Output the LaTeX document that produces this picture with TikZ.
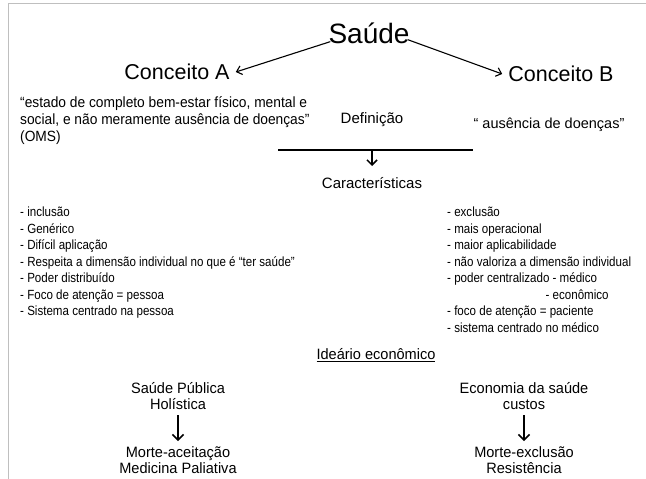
\documentclass[tikz,border=0pt]{standalone}
\usepackage{fontspec}
\setmainfont{Liberation Sans}
\newfontfamily\narrowf[FakeStretch=0.87]{Liberation Sans}
\newfontfamily\semif[FakeStretch=0.93]{Liberation Sans}
\newfontfamily\botf[FakeStretch=0.97]{Liberation Sans}
\usetikzlibrary{arrows.meta}
\tikzset{
  arr/.style={line width=1.1pt, -{Straight Barb[length=5pt,width=9pt,line width=1.1pt]}},
  marr/.style={line width=1.5pt, -{Straight Barb[length=5pt,width=10pt,line width=1.5pt]}},
  darr/.style={line width=1.6pt, -{Straight Barb[length=5.5pt,width=11pt,line width=1.6pt]}},
  big/.style={font=\fontsize{28}{30}\selectfont, inner sep=2pt},
  concept/.style={font=\fontsize{21.5}{24}\selectfont, inner sep=2pt},
  mid/.style={font=\fontsize{15}{17}\selectfont, inner sep=1pt},
  quote/.style={font=\semif\fontsize{14.8}{17}\selectfont, align=left, inner sep=0pt},
  lst/.style={font=\narrowf\fontsize{13.3}{16.5}\selectfont, align=left, inner sep=0pt},
  bot/.style={font=\botf\fontsize{15}{16.5}\selectfont, align=center, inner sep=1pt},
}
\begin{document}
\begin{tikzpicture}[x=1pt,y=-1pt]
\useasboundingbox (0,0) rectangle (646,479);
\fill[white] (0,0) rectangle (646,479);
\draw[black!25, line width=1pt] (8,479) -- (8,3.5) -- (646,3.5);

\node[big] (saude) at (369,33) {Saúde};
\node[concept] (ca) at (177,72) {Conceito A};
\node[concept] (cb) at (561,74) {Conceito B};
\draw[arr] ([xshift=4pt,yshift=4pt]saude.south west) -- ([xshift=4pt]ca.east);
\draw[arr] ([xshift=-4pt,yshift=6pt]saude.south east) -- ([xshift=-4pt]cb.west);

\node[quote, anchor=north west] (qa) at (20,96) {“estado de completo bem-estar físico, mental e\\social, e não meramente ausência de doenças”\\(OMS)};
\node[mid] (def) at (372,120) {Definição};
\node[font=\fontsize{14.5}{16}\selectfont, inner sep=0pt] (qb) at (549,125) {“ ausência de doenças”};

\coordinate (h1) at (278,150);
\coordinate (h2) at (473,150);
\coordinate (hm) at (372,150);
\coordinate (ht) at (372,166);
\draw[line width=1.1pt] (h1) -- (h2);
\node[mid] (car) at (372,183) {Características};
\draw[marr] (hm) -- (ht);

\node[lst, anchor=north west] (la) at (20,207) {- inclusão\\- Genérico\\- Difícil aplicação\\- Respeita a dimensão individual no que é “ter saúde”\\- Poder distribuído\\- Foco de atenção = pessoa\\- Sistema centrado na pessoa};
\node[lst, anchor=north west] (lb) at (447,207) {- exclusão\\- mais operacional\\- maior aplicabilidade\\- não valoriza a dimensão individual\\- poder centralizado - médico\\\hspace*{7.4em}- econômico\\- foco de atenção = paciente\\- sistema centrado no médico};

\node[bot] (ide) at (376,355) {\underline{Ideário econômico}};

\node[bot] (sp) at (178,396) {Saúde Pública\\Holística};
\node[bot] (ma) at (178,460) {Morte-aceitação\\Medicina Paliativa};
\draw[darr] ([yshift=-4pt]sp.south) -- ([yshift=4pt]ma.north);

\node[bot] (es) at (524,396) {Economia da saúde\\custos};
\node[bot] (me) at (524,460) {Morte-exclusão\\Resistência};
\draw[darr] ([yshift=-4pt]es.south) -- ([yshift=4pt]me.north);
\end{tikzpicture}
\end{document}
